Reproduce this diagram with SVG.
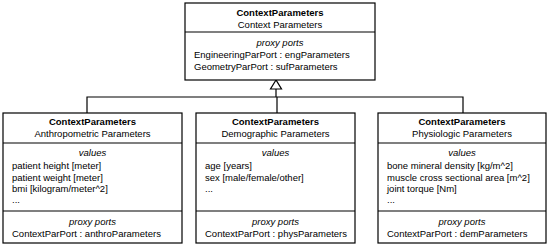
<svg xmlns="http://www.w3.org/2000/svg" width="550" height="248" viewBox="0 0 550 248">
<style>
text{font-family:"Liberation Sans",Arial,sans-serif;font-size:9.5px;fill:#000}
.b{font-weight:bold}
.i{font-style:italic}
.c{text-anchor:middle}
.box{fill:#fff;stroke:#000;stroke-width:1.2}
.ln{stroke:#000;stroke-width:1.2;fill:none}
</style>
<rect width="550" height="248" fill="#fff"/>
<g id="connectors">
<path class="ln" d="M87 113V97H463V113M277 113V97M276 97V89"/>
<polygon points="276,80 270.5,89 281.5,89" fill="#fff" stroke="#000" stroke-width="1.2"/>
</g>
<g id="top">
<rect class="box" x="185" y="3" width="190" height="77"/>
<line class="ln" x1="185" y1="32" x2="375" y2="32"/>
<text class="b c" x="280" y="16">ContextParameters</text>
<text class="c" x="280" y="28">Context Parameters</text>
<text class="i c" x="280" y="46">proxy ports</text>
<text x="194" y="58">EngineeringParPort : engParameters</text>
<text x="194" y="70">GeometryParPort : sufParameters</text>
</g>
<g id="anthro">
<rect class="box" x="3" y="113" width="179" height="130"/>
<line class="ln" x1="3" y1="143" x2="182" y2="143"/>
<line class="ln" x1="3" y1="211" x2="182" y2="211"/>
<text class="b c" x="92.5" y="125">ContextParameters</text>
<text class="c" x="92.5" y="137">Anthropometric Parameters</text>
<text class="i c" x="92.5" y="156">values</text>
<text x="12" y="169">patient height [meter]</text>
<text x="12" y="181">patient weight [meter]</text>
<text x="12" y="192">bmi [kilogram/meter^2]</text>
<text x="12" y="203">...</text>
<text class="i c" x="92.5" y="225">proxy ports</text>
<text x="12" y="237">ContextParPort : anthroParameters</text>
</g>
<g id="demo">
<rect class="box" x="196" y="113" width="159" height="130"/>
<line class="ln" x1="196" y1="143" x2="355" y2="143"/>
<line class="ln" x1="196" y1="211" x2="355" y2="211"/>
<text class="b c" x="275.5" y="125">ContextParameters</text>
<text class="c" x="275.5" y="137">Demographic Parameters</text>
<text class="i c" x="275.5" y="156">values</text>
<text x="205" y="169">age [years]</text>
<text x="205" y="181">sex [male/female/other]</text>
<text x="205" y="192">...</text>
<text class="i c" x="275.5" y="225">proxy ports</text>
<text x="205" y="237">ContextParPort : physParameters</text>
</g>
<g id="physio">
<rect class="box" x="378" y="113" width="168" height="130"/>
<line class="ln" x1="378" y1="143" x2="546" y2="143"/>
<line class="ln" x1="378" y1="211" x2="546" y2="211"/>
<text class="b c" x="462" y="125">ContextParameters</text>
<text class="c" x="462" y="137">Physiologic Parameters</text>
<text class="i c" x="462" y="156">values</text>
<text x="387" y="169">bone mineral density [kg/m^2]</text>
<text x="387" y="181">muscle cross sectional area [m^2]</text>
<text x="387" y="192">joint torque [Nm]</text>
<text x="387" y="203">...</text>
<text class="i c" x="462" y="225">proxy ports</text>
<text x="387" y="237">ContextParPort : demParameters</text>
</g>
</svg>
